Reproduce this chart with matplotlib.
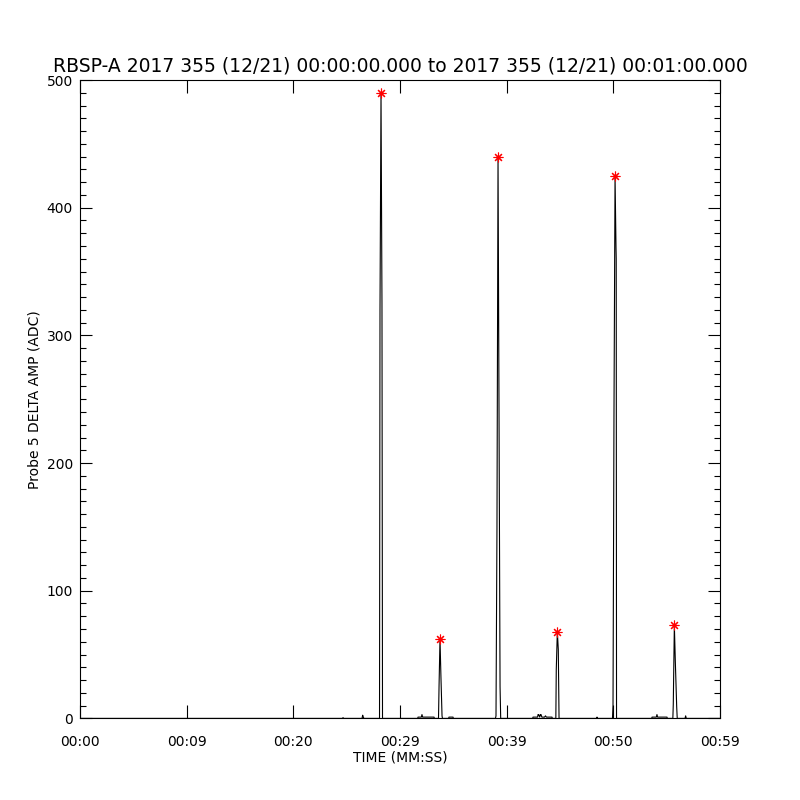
import matplotlib
matplotlib.use('Agg')
import matplotlib.pyplot as plt
from matplotlib.ticker import MultipleLocator

# probe 5 delta amplitude, time in seconds after 00:00:00
time_s = [0.0, 24.60, 24.66, 24.72, 26.44, 26.50, 26.56, 26.62,
          28.08, 28.125, 28.22, 28.31, 28.36,
          31.66, 31.69, 32.00, 32.06, 32.12, 32.16, 33.19, 33.22,
          33.61, 33.66, 33.75, 33.84, 33.94, 33.98,
          34.56, 34.59, 34.97, 35.00,
          38.95, 39.00, 39.09, 39.19, 39.28, 39.38, 39.44,
          42.44, 42.47, 42.90, 42.94, 43.00, 43.10, 43.16, 43.22, 43.30,
          43.55, 43.64, 43.72, 44.25, 44.28,
          44.61, 44.65, 44.75, 44.84, 44.91,
          48.44, 48.47, 48.52,
          49.92, 49.97, 50.06, 50.16, 50.25, 50.27, 50.30,
          53.60, 53.63, 54.03, 54.09, 54.15, 55.03, 55.06,
          55.58, 55.62, 55.72, 55.81, 55.94, 55.99,
          56.72, 56.78, 56.84, 60.0]
amp = [0, 0, 0.6, 0, 0, 2.5, 1, 0,
       0, 320, 490, 325, 0,
       0, 1, 1, 3, 1, 1, 1, 0,
       0, 25, 62, 32, 2, 0,
       0, 1, 1, 0,
       0, 2, 148, 440, 245, 25, 0,
       0, 1, 1, 3, 3, 1, 3, 3, 1,
       1, 2, 1, 1, 0,
       0, 38, 68, 54, 0,
       0, 1, 0,
       0, 10, 237, 425, 369, 360, 0,
       0, 1, 1, 3, 1, 1, 0,
       0, 11, 73, 45, 9, 0,
       0, 2, 0, 0]

# red asterisks on the spike maxima
peak_t = [28.22, 33.75, 39.19, 44.75, 50.16, 55.72]
peak_v = [490, 62, 440, 68, 425, 73]

tick_pos = [0, 10, 20, 30, 40, 50, 60]
tick_lab = ['00:00', '00:09', '00:20', '00:29', '00:39', '00:50', '00:59']

fig = plt.figure(figsize=(8, 8), dpi=100)
ax = fig.add_axes([0.1, 0.102, 0.8, 0.798])

ax.plot(time_s, amp, color='black', linewidth=0.8)
ax.plot(peak_t, peak_v, linestyle='none', marker=(8, 2, 0), markersize=7,
        color='red', markeredgewidth=0.8)

ax.set_xlim(0, 60)
ax.set_ylim(0, 500)
ax.set_xticks(tick_pos)
ax.set_xticklabels(tick_lab)
ax.yaxis.set_major_locator(MultipleLocator(100))
ax.yaxis.set_minor_locator(MultipleLocator(10))

ax.tick_params(axis='x', which='major', direction='in', length=9.4, width=0.8,
               top=True, bottom=True, pad=12, labelsize=10)
ax.tick_params(axis='y', which='major', direction='in', length=8.6, width=0.8,
               left=True, right=True, pad=5, labelsize=10)
ax.tick_params(axis='y', which='minor', direction='in', length=4.3, width=0.8,
               left=True, right=True)
for s in ax.spines.values():
    s.set_linewidth(0.8)

ax.set_title('RBSP-A 2017 355 (12/21) 00:00:00.000 to 2017 355 (12/21) 00:01:00.000',
             fontsize=13.5, pad=6)
ax.set_xlabel('TIME (MM:SS)', fontsize=10, labelpad=1)
ax.set_ylabel('Probe 5 DELTA AMP (ADC)', fontsize=10, labelpad=4)

fig.savefig('out.png', dpi=100)
